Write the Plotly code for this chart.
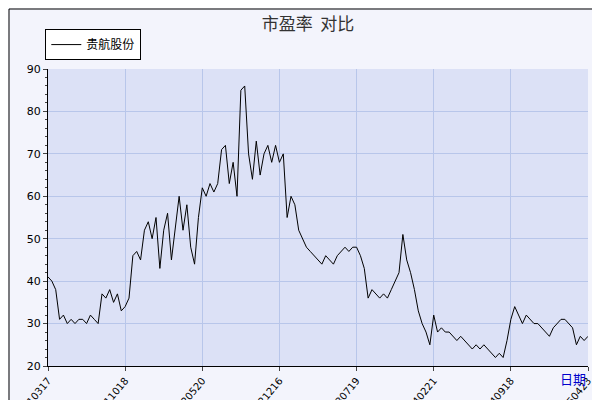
import plotly.graph_objects as go

# PE values, 20 samples per tick interval
pe = [
    41, 40, 38, 31, 32, 30, 31, 30, 31, 31, 30, 32, 31, 30, 37, 36, 38, 35, 37, 33,
    34, 36, 46, 47, 45, 52, 54, 50, 55, 43, 52, 56, 45, 53, 60, 52, 58, 48, 44, 55,
    62, 60, 63, 61, 63, 71, 72, 63, 68, 60, 85, 86, 70, 64, 73, 65, 70, 72, 68, 72,
    68, 70, 55, 60, 58, 52, 50, 48, 47, 46, 45, 44, 46, 45, 44, 46, 47, 48, 47, 48,
    48, 46, 43, 36, 38, 37, 36, 37, 36, 38, 40, 42, 51, 45, 42, 38, 33, 30, 28, 25,
    32, 28, 29, 28, 28, 27, 26, 27, 26, 25, 24, 25, 24, 25, 24, 23, 22, 23, 22, 26,
    31, 34, 32, 30, 32, 31, 30, 30, 29, 28, 27, 29, 30, 31, 31, 30, 29, 25, 27, 26, 27,
]
tick_labels = ['20210317', '20211018', '20220520', '20221216',
               '20230719', '20240221', '20240918', '20250423']
seg = 20
idx = list(range(len(pe)))

fig = go.Figure()
fig.add_trace(go.Scatter(x=idx, y=pe, mode='lines', name='贵航股份',
                         line=dict(color='black', width=1)))

# outer frame
W, H = 540, 297
fig.add_shape(type='rect', xref='paper', yref='paper',
              x0=-39 / W, x1=1 + 18 / W, y0=-40 / H, y1=1 + 60 / H,
              line=dict(color='black', width=1), layer='below')

fig.update_layout(
    width=600, height=400,
    margin=dict(l=40, r=20, t=61, b=42, autoexpand=False),
    paper_bgcolor='#F3F4FC', plot_bgcolor='#DCE1F6',
    font=dict(family='Noto Sans CJK SC, sans-serif', size=11, color='black'),
    title=dict(text='市盈率  对比', x=0.5, y=0.975, font=dict(size=17, color='#333')),
    showlegend=True,
    legend=dict(x=-0.005, y=1.03, xanchor='left', yanchor='bottom', bgcolor='white',
                bordercolor='black', borderwidth=1, font=dict(size=12)),
    xaxis=dict(range=[0, len(pe) - 1], tickvals=[i * seg for i in range(8)],
               ticktext=tick_labels, tickangle=-50, ticks='outside', ticklen=4,
               showgrid=True, gridcolor='#B8C6EA', showline=True, linecolor='black',
               zeroline=False, automargin=False, tickfont=dict(size=10, family='DejaVu Sans')),
    yaxis=dict(range=[20, 90], dtick=10, ticks='outside', ticklen=4,
               showgrid=True, gridcolor='#B8C6EA', showline=True, linecolor='black',
               zeroline=False, automargin=False, tickfont=dict(size=11, family='DejaVu Sans'),
               minor=dict(dtick=2, ticks='outside', ticklen=2)),
)
fig.add_annotation(text='日期', xref='paper', yref='paper', x=1.0, y=-0.08,
                   showarrow=False, font=dict(color='#0000CC', size=13))
fig.write_html('out.html')
